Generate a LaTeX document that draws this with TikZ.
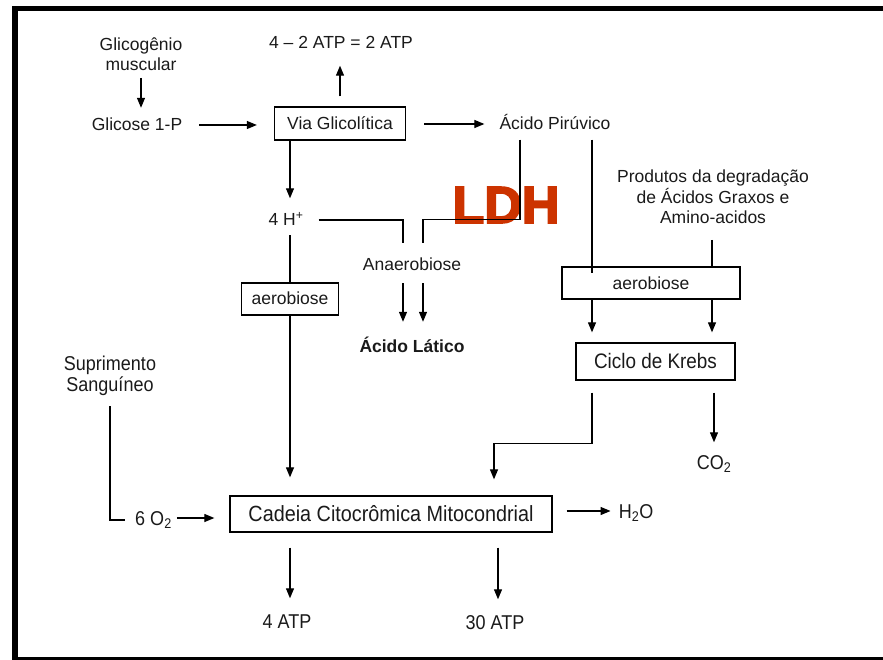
\documentclass[tikz,border=0pt]{standalone}
\usepackage{fontspec}
\setmainfont{Liberation Sans}
\newfontfamily\nfont[FakeStretch=0.9]{Liberation Sans}
\newfontfamily\heavyfont[FakeBold=3.5]{Liberation Sans Bold}
\usetikzlibrary{arrows.meta}
\definecolor{ldhred}{HTML}{CC3300}
\definecolor{ink}{HTML}{1A1A1A}
\tikzset{
  txt/.style={font=\fontsize{17.5}{20.5}\selectfont, text=ink, inner sep=0pt, text height=14.5pt, text depth=2.5pt},
  mtxt/.style={font=\fontsize{17.5}{20.5}\selectfont, text=ink, inner sep=0pt, align=center},
  ntxt/.style={font=\nfont\fontsize{20}{22}\selectfont, text=ink, inner sep=0pt, text height=16.2pt, text depth=1.8pt},
  mntxt/.style={font=\nfont\fontsize{20}{21.5}\selectfont, text=ink, inner sep=0pt, align=center},
  box/.style={draw, line width=1.3pt, inner sep=0pt},
  ln/.style={line width=1.2pt},
  arr/.style={line width=1.2pt, -{Triangle[length=10pt,width=8pt]}},
}
\begin{document}
\begin{tikzpicture}[x=1pt,y=-1pt]
\useasboundingbox (0,0) rectangle (883,660);
% frame
\fill[black] (12,6) rectangle (883,11);
\fill[black] (12,6) rectangle (18,660);
\fill[black] (12,657) rectangle (883,660);

% LDH (drawn first, connectors pass over it)
\node[inner sep=0pt, font=\heavyfont\fontsize{52}{52}\selectfont, text=ldhred] (ldh) at (506,205) {LDH};

% nodes
\node[mtxt, anchor=south] (glic) at (141,71) {Glicogênio\\muscular};
\node[txt] (g1p) at (137,125) {Glicose 1-P};
\node[box, minimum width=131pt, minimum height=33pt, txt] (via) at (340,123.5) {Via Glicolítica};
\node[txt] (atp2) at (341,43) {4 – 2 ATP = 2 ATP};
\node[txt] (pir) at (555,124) {Ácido Pirúvico};
\node[txt] (h4) at (286,220) {4 H\textsuperscript{+}};
\node[txt] (anaer) at (412,265) {Anaerobiose};
\node[txt, font=\fontsize{17.5}{20.5}\selectfont\bfseries] (lat) at (412,346) {Ácido Lático};
\node[box, txt, minimum width=97pt, minimum height=32pt] (aerL) at (290,299) {aerobiose};
\node[box, txt, minimum width=178pt, minimum height=32pt] (aerR) at (651,283) {aerobiose};
\node[mtxt, anchor=south] (prod) at (713,224) {Produtos da degradação\\de Ácidos Graxos e\\Amino-acidos};
\node[box, ntxt, font=\nfont\fontsize{21}{22}\selectfont, minimum width=159pt, minimum height=37pt] (krebs) at (655.5,361.5) {Ciclo de Krebs};
\node[ntxt] (co2) at (714,462) {CO\textsubscript{2}};
\node[box, ntxt, font=\nfont\fontsize{22}{23}\selectfont, minimum width=322pt, minimum height=36pt] (cad) at (391,514) {Cadeia Citocrômica Mitocondrial};
\node[mntxt, anchor=south] (sup) at (110,396) {Suprimento\\Sanguíneo};
\node[ntxt] (o2) at (153.5,518) {6 O\textsubscript{2}};
\node[ntxt] (h2o) at (636,511) {H\textsubscript{2}O};
\node[ntxt] (atp4) at (287,621) {4 ATP};
\node[ntxt] (atp30) at (495,622) {30 ATP};

% connectors
\draw[arr, shorten <=7pt, shorten >=8.5pt] (glic.south -| g1p.north) ++(4,0) coordinate (gs) -- (gs |- g1p.north);
\draw[arr, shorten <=17pt, shorten >=17pt] (g1p.east) -- (g1p.east -| via.west);
\draw[arr, shorten <=10pt, shorten >=14pt] (via.north) -- (via.north |- atp2.south);
\draw[arr, shorten <=18pt, shorten >=15pt] (via.east |- pir.west) -- (pir.west);
\draw[arr, shorten >=13pt] ([xshift=-50pt]via.south) -- ([xshift=-50pt]via.south |- h4.north);
\draw[ln] ([xshift=15pt]h4.east) -| ([xshift=-9pt,yshift=13.5pt]anaer.north);
\draw[ln] ([xshift=-35pt,yshift=-7pt]pir.south) -- ++(0,80) -| ([xshift=11pt,yshift=13.5pt]anaer.north);
\draw[arr, shorten <=9.5pt, shorten >=15.5pt] ([xshift=-9pt]anaer.south) -- ([xshift=-9pt]anaer.south |- lat.north);
\draw[arr, shorten <=9.5pt, shorten >=15.5pt] ([xshift=11pt]anaer.south) -- ([xshift=11pt]anaer.south |- lat.north);
\draw[ln, shorten <=6.5pt] (aerL.north |- h4.south) -- (aerL.north);
\draw[arr, shorten >=18pt] (aerL.south) -- (aerL.south |- cad.north);
\draw[ln] (sup.south) ++(0,10) |- ([xshift=-10pt,yshift=-2pt]o2.west);
\draw[arr, shorten <=5pt, shorten >=15pt] (o2.east) -- (o2.east -| cad.west);
\draw[arr, shorten <=14pt, shorten >=8pt] (cad.east |- h2o.west) -- (h2o.west);
\draw[arr, shorten <=15pt, shorten >=13.5pt] (cad.south -| aerL.south) -- (aerL.south |- atp4.north);
\draw[arr, shorten <=15pt, shorten >=13.5pt] ([xshift=107pt]cad.south) -- ([xshift=107pt]cad.south |- atp30.north);
\draw[arr] ([xshift=-63.5pt,yshift=-12pt]krebs.south) -- ++(0,51) -| ([xshift=103pt,yshift=16pt]cad.north);
\draw[arr, shorten <=12pt, shorten >=10.5pt] (co2.north |- krebs.south) -- (co2.north);
\draw[ln] ([xshift=37pt,yshift=-7pt]pir.south) -- ([xshift=37pt,yshift=-7pt]pir.south |- aerR.north);
\draw[ln, shorten <=16pt] (prod.south) ++(-1,0) coordinate (ps) -- (ps |- aerR.north);
\draw[arr, shorten >=10pt] ([xshift=-59pt]aerR.south) -- ([xshift=-59pt]aerR.south |- krebs.north);
\draw[arr, shorten >=10pt] ([xshift=61pt]aerR.south) -- ([xshift=61pt]aerR.south |- krebs.north);
\end{tikzpicture}
\end{document}
